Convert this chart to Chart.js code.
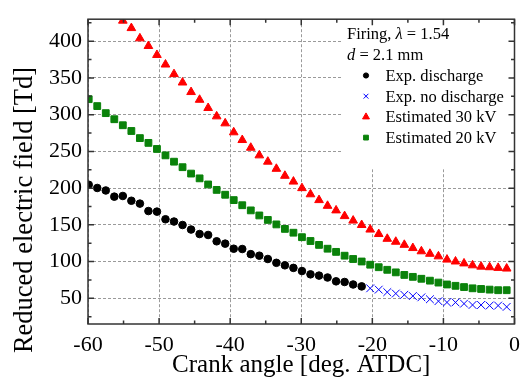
<!DOCTYPE html>
<html>
<head>
<meta charset="utf-8">
<script src="https://cdn.jsdelivr.net/npm/chart.js@4.4.0/dist/chart.umd.min.js"></script>
<style>
html, body { margin: 0; padding: 0; background: #fff; }
</style>
</head>
<body>
<canvas id="efield" width="528" height="383"></canvas>
<script>
const SERIF = '"Liberation Serif", "Times New Roman", serif';

// crank angle of every sample [deg. ATDC]
const angle = [-59.9, -58.7, -57.5, -56.3, -55.1, -53.9, -52.7, -51.5, -50.3, -49.1,
               -47.9, -46.7, -45.5, -44.3, -43.1, -41.9, -40.7, -39.5, -38.3, -37.1,
               -35.9, -34.7, -33.5, -32.3, -31.1, -29.9, -28.7, -27.5, -26.3, -25.1,
               -23.9, -22.7, -21.5, -20.3, -19.1, -17.9, -16.7, -15.5, -14.3, -13.1,
               -11.9, -10.7, -9.5, -8.3, -7.1, -5.9, -4.7, -3.5, -2.3, -1.1];

// reduced electric field [Td], one value per angle (null = not plotted)
const expDischarge = [204.6, 200.2, 196.8, 188.4, 189.3, 182.8, 178.9, 168.8, 168.0, 157.6,
                      154.5, 149.8, 143.6, 137.5, 136.2, 127.6, 124.4, 117.5, 117.1, 110.1,
                      108.0, 103.5, 98.3, 94.9, 91.4, 87.1, 82.6, 80.9, 78.3, 73.1,
                      72.2, 68.8, 66.2, null, null, null, null, null, null, null,
                      null, null, null, null, null, null, null, null, null, null];
const expNoDischarge = [null, null, null, null, null, null, null, null, null, null,
                        null, null, null, null, null, null, null, null, null, null,
                        null, null, null, null, null, null, null, null, null, null,
                        null, null, null, 63.6, 61.8, 58.4, 56.5, 54.8, 53.1, 51.3,
                        48.7, 46.1, 44.4, 44.4, 42.7, 40.9, 40.9, 40.1, 40.1, 38.3];
const est30kV = [null, null, null, null, 428, 417.9, 403.9, 393.5, 381.3, 368.3,
                 355.2, 343.8, 330.8, 320.3, 309.1, 297.7, 288.2, 276.0, 265.5, 255.0,
                 244.6, 236.0, 226.3, 216.8, 208.9, 200.0, 191.6, 183.7, 175.9, 169.7,
                 161.9, 155.8, 149.8, 143.6, 137.5, 131.0, 127.0, 122.8, 118.4, 114.0,
                 110.6, 107.1, 102.7, 100.1, 97.5, 94.9, 93.1, 92.3, 91.4, 90.5];
const est20kV = [321.1, 311.7, 302.1, 293.8, 285.6, 277.8, 268.1, 261.6, 253.3, 244.6,
                 236.0, 228.5, 219.8, 213.3, 205.0, 197.6, 191.0, 183.7, 176.7, 169.7,
                 162.8, 156.7, 150.6, 144.5, 139.3, 133.2, 128.0, 122.7, 117.5, 113.2,
                 108.0, 103.5, 100.1, 95.7, 92.3, 88.8, 85.3, 81.8, 79.2, 76.6,
                 74.0, 71.4, 68.8, 67.0, 65.3, 63.6, 62.7, 61.8, 61.0, 61.0];

const xTitle = 'Crank angle [deg. ATDC]';
const yTitle = 'Reduced electric field [Td]';

function points(values) {
    return angle.map((a, i) => ({ x: a, y: values[i] })).filter(p => p.y !== null);
}

const series = [
    { label: 'Exp. discharge', values: expDischarge, style: 'circle', color: '#000000', radius: 3.8, legendRadius: 2.6, width: 1 },
    { label: 'Exp. no discharge', values: expNoDischarge, style: 'crossRot', color: '#0000ff', radius: 5.5, legendRadius: 3.4, width: 1 },
    { label: 'Estimated 30 kV', values: est30kV, style: 'triangle', color: '#ff0000', radius: 5, legendRadius: 4, width: 1 },
    { label: 'Estimated 20 kV', values: est20kV, style: 'rect', color: '#0a820a', radius: 4.8, legendRadius: 3.4, width: 1 }
];

// frame with inward major/minor ticks on all four sides
const framePlugin = {
    id: 'frame',
    afterDatasetsDraw(chart) {
        const { ctx, chartArea: a, scales: { x, y } } = chart;
        ctx.save();
        ctx.strokeStyle = '#333';
        ctx.lineWidth = 1.5;
        ctx.beginPath();
        for (let v = x.min; v <= x.max; v += 5) {
            const px = x.getPixelForValue(v);
            const len = v % 10 === 0 ? 6 : 3.5;
            ctx.moveTo(px, a.bottom); ctx.lineTo(px, a.bottom - len);
            ctx.moveTo(px, a.top); ctx.lineTo(px, a.top + len);
        }
        for (let v = 25; v <= y.max; v += 25) {
            if (v < y.min) continue;
            const py = y.getPixelForValue(v);
            const len = v % 50 === 0 ? 6 : 3.5;
            ctx.moveTo(a.left, py); ctx.lineTo(a.left + len, py);
            ctx.moveTo(a.right, py); ctx.lineTo(a.right - len, py);
        }
        ctx.stroke();
        ctx.strokeRect(a.left, a.top, a.right - a.left, a.bottom - a.top);
        ctx.restore();
    },
    afterDraw(chart) {
        const { ctx, chartArea: a } = chart;
        ctx.save();
        ctx.fillStyle = '#000';
        ctx.font = '25px ' + SERIF;
        ctx.textAlign = 'center';
        ctx.textBaseline = 'alphabetic';
        ctx.fillText(xTitle, (a.left + a.right) / 2, 372);
        ctx.font = '26.5px ' + SERIF;
        ctx.translate(25, 210);
        ctx.rotate(-Math.PI / 2);
        ctx.textBaseline = 'middle';
        ctx.fillText(yTitle, 0, 0);
        ctx.restore();
    }
};

// legend box in the upper right corner
const legendPlugin = {
    id: 'cornerLegend',
    beforeDatasetsDraw(chart) {
        const { ctx, chartArea: a } = chart;
        ctx.save();
        ctx.fillStyle = '#fff';
        ctx.fillRect(342, a.top + 1, a.right - 343, 149);
        ctx.restore();
    },
    afterDatasetsDraw(chart) {
        const ctx = chart.ctx;
        ctx.save();
        ctx.fillStyle = '#000';
        ctx.textBaseline = 'alphabetic';
        ctx.textAlign = 'left';
        const runs = (parts, x, y) => {
            parts.forEach(([text, italic]) => {
                ctx.font = (italic ? 'italic ' : '') + '16.5px ' + SERIF;
                ctx.fillText(text, x, y);
                x += ctx.measureText(text).width;
            });
        };
        runs([['Firing, ', false], ['\u03bb', true], [' = 1.54', false]], 347, 39);
        runs([['d', true], [' = 2.1 mm', false]], 347, 60);
        series.forEach((s, i) => {
            const base = 81 + i * 20.7;
            ctx.fillStyle = s.color;
            ctx.strokeStyle = s.color;
            ctx.lineWidth = s.width;
            Chart.helpers.drawPoint(ctx, { pointStyle: s.style, radius: s.legendRadius, rotation: 0, borderWidth: s.width }, 366, base - 5.5);
            ctx.fillStyle = '#000';
            ctx.font = '16.5px ' + SERIF;
            ctx.fillText(s.label, 385.5, base);
        });
        ctx.restore();
    }
};

new Chart(document.getElementById('efield'), {
    type: 'scatter',
    data: {
        datasets: series.map(s => ({
            label: s.label,
            data: points(s.values),
            pointStyle: s.style,
            pointRadius: s.radius,
            pointHoverRadius: s.radius,
            pointBackgroundColor: s.color,
            pointBorderColor: s.color,
            pointBorderWidth: s.width,
            showLine: false
        }))
    },
    options: {
        responsive: false,
        animation: false,
        devicePixelRatio: 1,
        layout: { padding: { left: 6, top: 6, right: 8, bottom: 0 } },
        plugins: {
            legend: { display: false },
            tooltip: { enabled: false }
        },
        scales: {
            x: {
                type: 'linear',
                min: -60,
                max: 0,
                afterFit: s => { s.height = 59; },
                ticks: {
                    stepSize: 10,
                    color: '#000',
                    padding: 8,
                    maxRotation: 0,
                    font: { family: SERIF, size: 22 }
                },
                grid: { color: '#9a9a9a', lineWidth: 1, drawTicks: false },
                border: { display: false, dash: [3, 2] }
            },
            y: {
                type: 'linear',
                min: 15,
                max: 430,
                afterFit: s => { s.width = 82; },
                ticks: {
                    stepSize: 50,
                    includeBounds: false,
                    color: '#000',
                    padding: 6,
                    font: { family: SERIF, size: 22 }
                },
                grid: { color: '#9a9a9a', lineWidth: 1, drawTicks: false },
                border: { display: false, dash: [3, 2] }
            }
        }
    },
    plugins: [legendPlugin, framePlugin]
});
</script>
</body>
</html>
